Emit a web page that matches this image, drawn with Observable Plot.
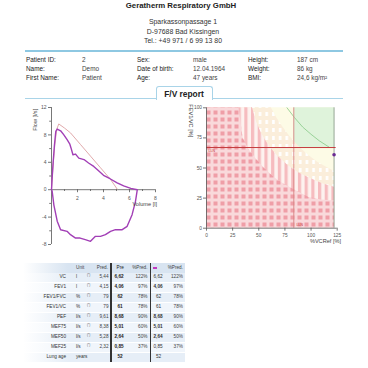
<!DOCTYPE html>
<html><head><meta charset="utf-8">
<script src="https://cdn.jsdelivr.net/npm/d3@7"></script>
<script src="https://cdn.jsdelivr.net/npm/@observablehq/plot@0.6"></script>
<style>
html,body{margin:0;padding:0;background:#fff;}
body{width:368px;height:368px;position:relative;overflow:hidden;font-family:"Liberation Sans",Arial,sans-serif;color:#222;}
.t{position:absolute;white-space:nowrap;line-height:1;}
.chart{position:absolute;}
.chart svg{overflow:visible;background:transparent;}
</style></head><body>
<svg width="0" height="0" style="position:absolute;left:0;top:0">
<defs>
<pattern id="checker" patternUnits="userSpaceOnUse" width="7" height="7">
 <rect width="7" height="7" fill="#f9d9db"/>
 <rect x="1.5" y="1.5" width="4" height="4" fill="#ef9ea7"/>
</pattern>
<pattern id="stripes" patternUnits="userSpaceOnUse" width="6.7" height="10">
 <rect width="6.7" height="10" fill="#fdf2ef"/>
 <rect x="0" width="3.2" height="10" fill="#f6bcbf"/>
</pattern>
<pattern id="dashes" patternUnits="userSpaceOnUse" width="6.7" height="8">
 <rect width="6.7" height="8" fill="#fbeedb"/>
 <rect x="1" y="1" width="2.6" height="4" fill="#ffffff"/>
</pattern>
</defs></svg>
<div id="root"></div>
<script>
// ---------- DATA ----------
const company = "Geratherm Respiratory GmbH";
const address = ["Sparkassonpassage 1", "D-97688 Bad Kissingen", "Tel.: +49 971 / 6 99 13 80"];
const infoLabels1 = ["Patient ID:", "Name:", "First Name:"];
const infoValues1 = ["2", "Demo", "Patient"];
const infoLabels2 = ["Sex:", "Date of birth:", "Age:"];
const infoValues2 = ["male", "12.04.1964", "47 years"];
const infoLabels3 = ["Height:", "Weight:", "BMI:"];
const infoValues3 = ["187 cm", "86 kg", "24,6 kg/m²"];
const tabTitle = "F/V report";

// Flow-volume loop (measured)
const expVol  = [0, 0.05, 0.13, 0.23, 0.33, 0.44, 0.7, 0.95, 1.2, 1.4, 1.5, 1.65, 1.85, 2.1, 2.5, 2.85, 3.25, 3.6, 4.0, 4.5, 5.05, 5.55, 6.1, 6.6];
const expFlow = [0, 1.7, 4.1, 6.6, 8.5, 8.85, 8.6, 8.0, 7.3, 6.7, 6.1, 5.1, 5.2, 4.6, 4.4, 3.9, 3.4, 2.8, 2.1, 1.6, 1.0, 0.55, 0.2, 0];
const insVol  = [6.6, 6.46, 6.2, 5.82, 5.44, 4.92, 4.54, 4.15, 3.77, 3.38, 3.0, 2.6, 2.2, 1.85, 1.46, 1.2, 0.7, 0.44, 0.18, 0.05, 0];
const insFlow = [0, -1.7, -3.65, -5.35, -5.84, -5.84, -6.08, -6.57, -6.81, -6.81, -7.54, -7.3, -7.06, -7.06, -6.57, -6.08, -5.84, -4.6, -2.2, -0.2, 0];
// predicted expiratory curve
const predVol  = [0, 0.1, 0.25, 0.4, 0.56, 1.0, 1.46, 2.23, 3.0, 3.77, 4.54, 5.05];
const predFlow = [0, 3.0, 6.5, 8.8, 9.6, 9.0, 8.3, 6.6, 4.9, 3.2, 1.5, 0.1];
const flowTicks = [-8, -4, 0, 4, 8, 12];
const flowMinor = [-6, -2, 2, 6, 10];
const volTicks = [2, 4, 6, 8];
const volMinor = [1, 3, 5, 7];

// FEV1/VC vs %VC reference chart
const pctTicks = [0, 25, 50, 75, 100, 125];
const ratioTicks = [0, 25, 50, 75, 100];
const fillEnd = 122.5;
const band1X = [0, 31, 33, 35, 40, 47, 55, 65, 75, 88, 98, 110, 122.5];
const band1Y = [100, 100, 88, 75, 66, 58, 50, 42, 36, 30, 25.5, 23.5, 22.5];
const band2X = [0, 44, 48, 53, 60, 68, 78, 88, 100, 111, 122.5];
const band2Y = [100, 100, 88, 78, 68, 60, 52, 46, 41, 37, 34];
const band3X = [0, 62, 67, 73, 80, 88, 97, 106, 114, 122.5];
const band3Y = [100, 100, 92, 84, 76, 68, 61, 55, 51, 47];
const greenX = [77, 84, 92, 100, 108, 117];
const greenY = [100, 92, 84, 78, 72.5, 67.5];
const ratioLLN = 67;
const vcLLN = 83.5;

// Table
const rowLabels = ["VC", "FEV1", "FEV1/FVC", "FEV1/VC", "PEF", "MEF75", "MEF50", "MEF25", "Lung age"];
const units = ["l", "l", "%", "%", "l/s", "l/s", "l/s", "l/s", "years"];
const refMark = ["(*)", "(*)", "(*)", "(*)", "(*)", "(*)", "(*)", "(*)", ""];
const predVals = ["5,44", "4,15", "79", "79", "9,61", "8,38", "5,28", "2,32", ""];
const preVals = ["6,62", "4,06", "62", "61", "8,68", "5,01", "2,64", "0,85", "52"];
const prePct = ["122%", "97%", "78%", "78%", "90%", "60%", "50%", "37%", ""];
const postVals = ["6,62", "4,06", "62", "61", "8,68", "5,01", "2,64", "0,85", "52"];
const postPct = ["122%", "97%", "78%", "78%", "90%", "60%", "50%", "37%", ""];
const headers = ["Unit", "Pred.", "Pre", "%Pred.", "%Pred."];

// ---------- LAYOUT HELPERS ----------
const root = document.getElementById("root");
function T(s, x, y, o = {}) {
  const d = document.createElement("div");
  d.className = "t";
  const size = o.size || 6.5;
  d.style.fontSize = size + "px";
  d.style.top = (y - size * 0.5) + "px";
  if (o.weight) d.style.fontWeight = o.weight;
  d.style.color = o.color || "#222";
  if (o.anchor === "end") { d.style.left = (x - 200) + "px"; d.style.width = "200px"; d.style.textAlign = "right"; }
  else if (o.anchor === "middle") { d.style.left = (x - 150) + "px"; d.style.width = "300px"; d.style.textAlign = "center"; }
  else d.style.left = x + "px";
  if (o.rotate) { d.style.transform = `rotate(${o.rotate}deg)`; d.style.transformOrigin = "center"; }
  d.textContent = s;
  root.appendChild(d);
  return d;
}
function box(x, y, w, h, css) {
  const d = document.createElement("div");
  d.style.position = "absolute";
  d.style.left = x + "px"; d.style.top = y + "px"; d.style.width = w + "px"; d.style.height = h + "px";
  Object.assign(d.style, css);
  root.appendChild(d);
  return d;
}

// ---------- HEADER ----------
T(company, 181, 6.2, {size: 7.8, weight: "bold", anchor: "middle"});
address.forEach((s, i) => T(s, 183, 22.7 + i * 9.3, {size: 6.9, anchor: "middle", color: "#333"}));
box(25, 50, 318, 1.6, {background: "#8ec8e2"});
const infoY = [60, 69, 78.5];
infoY.forEach((y, i) => {
  T(infoLabels1[i], 26, y, {size: 6.4});
  T(infoValues1[i], 82, y, {size: 6.4, color: "#444"});
  T(infoLabels2[i], 137, y, {size: 6.4});
  T(infoValues2[i], 193, y, {size: 6.4, color: "#444"});
  T(infoLabels3[i], 248, y, {size: 6.4});
  T(infoValues3[i], 297, y, {size: 6.4, color: "#444"});
});
box(25, 97.5, 318, 1.2, {background: "#a9d4e8"});
box(156, 86, 55, 12.5, {background: "#fff", border: "1px solid #a9d4e8", borderBottom: "none", borderRadius: "3px 3px 0 0", zIndex: 2});
const tt = T(tabTitle, 184, 94.5, {size: 8.4, weight: "bold", anchor: "middle"});
tt.style.zIndex = 3;

// ---------- LEFT CHART: flow-volume ----------
const loop = expVol.map((v, i) => ({v, f: expFlow[i]})).concat(insVol.map((v, i) => ({v, f: insFlow[i]})));
const pred = predVol.map((v, i) => ({v, f: predFlow[i]}));
const axisColor = "#555";
const lxPerPx = 8 / 104, lyPerPx = 20 / 137;
const left = Plot.plot({
  width: 175, height: 160,
  marginLeft: 51, marginRight: 20, marginTop: 12, marginBottom: 11,
  x: {domain: [0, 8], axis: null},
  y: {domain: [-8, 12], axis: null},
  style: {fontFamily: "Liberation Sans, Arial, sans-serif", fontSize: "5px", color: axisColor, background: "transparent"},
  marks: [
    Plot.ruleX([0], {y1: -8, y2: 12, stroke: axisColor, strokeWidth: 0.8}),
    Plot.ruleY([0], {x1: 0, x2: 8, stroke: axisColor, strokeWidth: 0.8}),
    Plot.ruleY(flowTicks, {y: d => d, x1: 0, x2: -3 * lxPerPx, stroke: axisColor, strokeWidth: 0.8}),
    Plot.ruleY(flowMinor, {y: d => d, x1: 0, x2: -1.8 * lxPerPx, stroke: axisColor, strokeWidth: 0.8}),
    Plot.text(flowTicks, {x: 0, y: d => d, dx: -5, text: d => String(d), textAnchor: "end", fontSize: 5, fill: axisColor}),
    Plot.ruleX(volTicks, {x: d => d, y1: 0, y2: -3 * lyPerPx, stroke: axisColor, strokeWidth: 0.8}),
    Plot.ruleX(volMinor, {x: d => d, y1: 0, y2: -1.8 * lyPerPx, stroke: axisColor, strokeWidth: 0.8}),
    Plot.text(volTicks, {x: d => d, y: 0, dy: 8.5, text: d => String(d), fontSize: 5, fill: axisColor}),
    Plot.line(pred, {x: "v", y: "f", stroke: "#dc9fa2", strokeWidth: 0.9}),
    Plot.line(loop, {x: "v", y: "f", stroke: "#a23fb6", strokeWidth: 1.4})
  ]
});
const lw = document.createElement("div"); lw.className = "chart";
lw.style.left = "0px"; lw.style.top = "95px"; lw.appendChild(left); root.appendChild(lw);
T("Flow [l/s]", 36, 120, {size: 5.6, anchor: "middle", rotate: -90, color: "#444"});
T("Volume [l]", 157, 205, {size: 5.6, anchor: "end", color: "#444"});

// ---------- RIGHT CHART ----------
const b1 = band1X.map((x, i) => ({x, y: band1Y[i]}));
const b2 = band2X.map((x, i) => ({x, y: band2Y[i]}));
const b3 = band3X.map((x, i) => ({x, y: band3Y[i]}));
const gc = greenX.map((x, i) => ({x, y: greenY[i]}));
const patient = [{vc: parseFloat(prePct[0]), ratio: parseFloat(preVals[3])}];
const rxPerPx = 125 / 130.7, ryPerPx = 100 / 120.4;
const right = Plot.plot({
  width: 184, height: 160,
  marginLeft: 22, marginRight: 31.3, marginTop: 12.3, marginBottom: 27.3,
  x: {domain: [0, 125], axis: null},
  y: {domain: [0, 100], axis: null},
  style: {fontFamily: "Liberation Sans, Arial, sans-serif", fontSize: "4.8px", color: axisColor, background: "transparent"},
  marks: [
    Plot.rect([{a: 0, b: fillEnd, c: 0, d: 100}], {x1: "a", x2: "b", y1: "c", y2: "d", fill: "#fdfbe6"}),
    Plot.rect([{a: vcLLN, b: fillEnd, c: ratioLLN, d: 100}], {x1: "a", x2: "b", y1: "c", y2: "d", fill: "#dff3db"}),
    Plot.areaY(b3, {x: "x", y1: 0, y2: "y", fill: "url(#dashes)"}),
    Plot.areaY(b2, {x: "x", y1: 0, y2: "y", fill: "url(#stripes)"}),
    Plot.areaY(b1, {x: "x", y1: 0, y2: "y", fill: "url(#checker)"}),
    Plot.line(gc, {x: "x", y: "y", stroke: "#86c986", strokeWidth: 0.8}),
    Plot.ruleX([vcLLN], {y1: 0, y2: 100, stroke: "#d88484", strokeWidth: 0.9}),
    Plot.ruleX(patient, {x: "vc", y1: 0, y2: 100, stroke: "#8d9d8d", strokeWidth: 0.9}),
    Plot.ruleY([ratioLLN], {x1: 0, x2: 124, stroke: "#c43a3c", strokeWidth: 1}),
    Plot.text(["LLN"], {x: 2, y: ratioLLN, dy: 3, text: d => d, fontSize: 3.5, fill: "#c43a3c", textAnchor: "start"}),
    Plot.text(["LLN"], {x: vcLLN, y: 0, dx: 6, dy: -3, text: d => d, fontSize: 3.5, fill: "#c43a3c"}),
    Plot.dot(patient, {x: "vc", y: "ratio", r: 1.8, fill: "#6b2a93"}),
    Plot.ruleX([0], {y1: 0, y2: 100, stroke: axisColor, strokeWidth: 0.8}),
    Plot.ruleY([0], {x1: 0, x2: 125, stroke: axisColor, strokeWidth: 0.8}),
    Plot.ruleY(ratioTicks, {y: d => d, x1: 0, x2: -3 * rxPerPx, stroke: axisColor, strokeWidth: 0.8}),
    Plot.text(ratioTicks, {x: 0, y: d => d, dx: -4.5, text: d => String(d), textAnchor: "end", fontSize: 4.8, fill: axisColor}),
    Plot.ruleX(pctTicks, {x: d => d, y1: 0, y2: -3 * ryPerPx, stroke: axisColor, strokeWidth: 0.8}),
    Plot.text(pctTicks, {x: d => d, y: 0, dy: 7, text: d => String(d), fontSize: 4.8, fill: axisColor})
  ]
});
const rw = document.createElement("div"); rw.className = "chart";
rw.style.left = "184px"; rw.style.top = "95px"; rw.appendChild(right); root.appendChild(rw);
T("FEV1/VC [%]", 190, 121, {size: 5.6, anchor: "middle", rotate: 90, color: "#444"});
T("%VCRef [%]", 341, 242, {size: 5.6, anchor: "end", color: "#444"});

// ---------- TABLE ----------
const tSize = 4.7;
const headY = 268.2;
box(23, 263, 162, 10, {background: "linear-gradient(to right, rgba(214,227,241,0) 0px, #d8e4f1 45px, #d8e4f1 100%)"});
rowLabels.forEach((r, i) => {
  const yc = 277.6 + i * 10;
  box(23, yc - 5, 162, 9.4, {background: i % 2 === 0
    ? "linear-gradient(to right, rgba(230,238,247,0) 0px, #e6eef7 45px, #e6eef7 100%)"
    : "linear-gradient(to right, rgba(240,245,251,0) 0px, #f0f5fb 45px, #f0f5fb 100%)"});
});
box(110.3, 263, 1.5, 99, {background: "#333"});
box(149.5, 263, 1.5, 99, {background: "#333"});
T(headers[0], 76, headY, {size: tSize, color: "#444"});
T(headers[1], 108, headY, {size: tSize, anchor: "end", color: "#444"});
T(headers[2], 116.5, headY, {size: tSize, color: "#222"});
T(headers[3], 147.5, headY, {size: tSize, anchor: "end", color: "#444"});
box(152.5, 267, 4.5, 2.4, {background: "#c23cc0"});
T(headers[4], 183, headY, {size: tSize, anchor: "end", color: "#444"});
rowLabels.forEach((r, i) => {
  const yc = 277.6 + i * 10;
  T(r, 66, yc, {size: tSize, anchor: "end", color: "#333"});
  T(units[i], 76, yc, {size: tSize, color: "#333"});
  if (refMark[i]) T(refMark[i], 87, yc - 1.8, {size: 3.2, color: "#555"});
  T(predVals[i], 108.5, yc, {size: tSize, anchor: "end", color: "#444"});
  T(preVals[i], preVals[i].length <= 2 ? 117.5 : 114.5, yc, {size: tSize, weight: "bold", color: "#222"});
  T(prePct[i], 147.5, yc, {size: tSize, anchor: "end", color: "#444"});
  T(postVals[i], postVals[i].length <= 2 ? 156 : 153.5, yc, {size: tSize, weight: i === 1 || i === 4 || i === 5 || i === 6 ? "bold" : "normal", color: "#333"});
  T(postPct[i], 183, yc, {size: tSize, anchor: "end", color: "#444"});
});
</script>
</body></html>
